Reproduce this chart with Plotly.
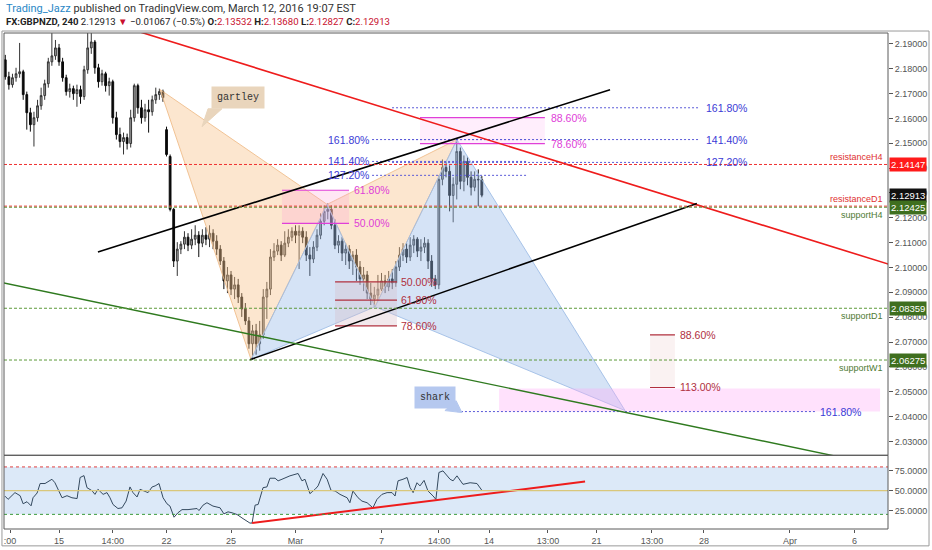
import plotly.graph_objects as go

# ---- 4h candles, GBPNZD ----
bar_open = [2.1836, 2.1768, 2.1736, 2.1764, 2.1780, 2.1788, 2.1696, 2.1623, 2.1575, 2.1603,
            2.1651, 2.1692, 2.1740, 2.1828, 2.1852, 2.1884, 2.1828, 2.1764, 2.1708, 2.1720,
            2.1700, 2.1716, 2.1688, 2.1796, 2.1884, 2.1908, 2.1804, 2.1748, 2.1780, 2.1732,
            2.1748, 2.1603, 2.1535, 2.1507, 2.1523, 2.1499, 2.1603, 2.1732, 2.1643, 2.1603,
            2.1635, 2.1627, 2.1675, 2.1696, 2.1708, 2.1555, 2.1447, 2.1234, 2.1026, 2.1074,
            2.1094, 2.1122, 2.1090, 2.1114, 2.1130, 2.1098, 2.1130, 2.1114, 2.1138, 2.1106,
            2.1074, 2.1026, 2.0946, 2.0970, 2.0913, 2.0930, 2.0881, 2.0833, 2.0785, 2.0693,
            2.0745, 2.0693, 2.0729, 2.0881, 2.0913, 2.1042, 2.1066, 2.1090, 2.1050, 2.1098,
            2.1122, 2.1146, 2.1130, 2.1146, 2.1122, 2.1050, 2.1034, 2.1082, 2.1130, 2.1186,
            2.1226, 2.1234, 2.1170, 2.1090, 2.1106, 2.1058, 2.1074, 2.1026, 2.1050, 2.1002,
            2.0954, 2.0970, 2.0897, 2.0873, 2.0889, 2.0913, 2.0946, 2.0922, 2.0954, 2.0938,
            2.1002, 2.1050, 2.1074, 2.1042, 2.1090, 2.1114, 2.1066, 2.1082, 2.1098, 2.1026,
            2.0954, 2.0930, 2.1355, 2.1403, 2.1387, 2.1290, 2.1335, 2.1467, 2.1347, 2.1427,
            2.1363, 2.1323, 2.1355, 2.13532]
bar_high = [2.1856, 2.1788, 2.1780, 2.1804, 2.1904, 2.1796, 2.1708, 2.1643, 2.1627, 2.1675,
            2.1724, 2.1756, 2.1844, 2.1944, 2.1916, 2.1900, 2.1844, 2.1776, 2.1740, 2.1732,
            2.1736, 2.1732, 2.1812, 2.1944, 2.1944, 2.1916, 2.1820, 2.1796, 2.1788, 2.1764,
            2.1756, 2.1627, 2.1563, 2.1543, 2.1539, 2.1635, 2.1740, 2.1740, 2.1675, 2.1659,
            2.1675, 2.1692, 2.1724, 2.1720, 2.1716, 2.1567, 2.1455, 2.1240, 2.1102, 2.1106,
            2.1146, 2.1138, 2.1154, 2.1170, 2.1146, 2.1154, 2.1162, 2.1170, 2.1154, 2.1130,
            2.1090, 2.1042, 2.1002, 2.0986, 2.0962, 2.0954, 2.0897, 2.0857, 2.0801, 2.0769,
            2.0773, 2.0785, 2.0913, 2.0942, 2.1074, 2.1098, 2.1114, 2.1106, 2.1146, 2.1154,
            2.1162, 2.1170, 2.1170, 2.1162, 2.1146, 2.1082, 2.1106, 2.1154, 2.1218, 2.1250,
            2.1258, 2.1250, 2.1194, 2.1130, 2.1122, 2.1098, 2.1090, 2.1066, 2.1074, 2.1026,
            2.1002, 2.0986, 2.0938, 2.0922, 2.0970, 2.0978, 2.0970, 2.0986, 2.0994, 2.1026,
            2.1082, 2.1098, 2.1098, 2.1122, 2.1130, 2.1122, 2.1114, 2.1122, 2.1114, 2.1050,
            2.0970, 2.1371, 2.1435, 2.1427, 2.1411, 2.1363, 2.1515, 2.1483, 2.1451, 2.1443,
            2.1387, 2.1387, 2.1395, 2.13680]
bar_low = [2.1756, 2.1716, 2.1724, 2.1748, 2.1764, 2.1675, 2.1555, 2.1547, 2.1487, 2.1587,
           2.1635, 2.1675, 2.1724, 2.1812, 2.1836, 2.1812, 2.1748, 2.1692, 2.1684, 2.1675,
           2.1647, 2.1659, 2.1675, 2.1780, 2.1860, 2.1780, 2.1724, 2.1732, 2.1708, 2.1692,
           2.1579, 2.1515, 2.1483, 2.1455, 2.1475, 2.1483, 2.1587, 2.1619, 2.1579, 2.1587,
           2.1543, 2.1611, 2.1659, 2.1675, 2.1667, 2.1447, 2.1226, 2.1002, 2.0966, 2.1054,
           2.1074, 2.1066, 2.1074, 2.1090, 2.1042, 2.1082, 2.1090, 2.1082, 2.1074, 2.1050,
           2.1010, 2.0913, 2.0897, 2.0889, 2.0873, 2.0857, 2.0801, 2.0769, 2.0673, 2.0630,
           2.0649, 2.0665, 2.0713, 2.0793, 2.0889, 2.1026, 2.1050, 2.1026, 2.1042, 2.1082,
           2.1106, 2.1098, 2.0994, 2.1098, 2.1026, 2.0966, 2.1018, 2.1066, 2.1114, 2.1170,
           2.1194, 2.1154, 2.1074, 2.1058, 2.1026, 2.1010, 2.0994, 2.0970, 2.0946, 2.0930,
           2.0905, 2.0873, 2.0849, 2.0841, 2.0865, 2.0905, 2.0897, 2.0905, 2.0913, 2.0922,
           2.0986, 2.1026, 2.1018, 2.1026, 2.1058, 2.1042, 2.1026, 2.1058, 2.0994, 2.0922,
           2.0913, 2.0913, 2.1331, 2.1363, 2.1226, 2.1182, 2.1274, 2.1315, 2.1307, 2.1331,
           2.1290, 2.1307, 2.1246, 2.12827]
bar_close = [2.1768, 2.1736, 2.1764, 2.1780, 2.1788, 2.1696, 2.1623, 2.1575, 2.1603, 2.1651,
             2.1692, 2.1740, 2.1828, 2.1852, 2.1884, 2.1828, 2.1764, 2.1708, 2.1720, 2.1700,
             2.1716, 2.1688, 2.1796, 2.1884, 2.1908, 2.1804, 2.1748, 2.1780, 2.1732, 2.1748,
             2.1603, 2.1535, 2.1507, 2.1523, 2.1499, 2.1603, 2.1732, 2.1643, 2.1603, 2.1635,
             2.1627, 2.1675, 2.1696, 2.1708, 2.1684, 2.1455, 2.1234, 2.1026, 2.1074, 2.1094,
             2.1122, 2.1090, 2.1114, 2.1130, 2.1098, 2.1130, 2.1114, 2.1138, 2.1106, 2.1074,
             2.1026, 2.0946, 2.0970, 2.0913, 2.0930, 2.0881, 2.0833, 2.0785, 2.0693, 2.0745,
             2.0693, 2.0729, 2.0881, 2.0913, 2.1042, 2.1066, 2.1090, 2.1050, 2.1098, 2.1122,
             2.1146, 2.1130, 2.1146, 2.1122, 2.1050, 2.1034, 2.1082, 2.1130, 2.1186, 2.1226,
             2.1234, 2.1170, 2.1090, 2.1106, 2.1058, 2.1074, 2.1026, 2.1050, 2.1002, 2.0954,
             2.0970, 2.0897, 2.0873, 2.0889, 2.0913, 2.0946, 2.0922, 2.0954, 2.0938, 2.1002,
             2.1050, 2.1074, 2.1042, 2.1090, 2.1114, 2.1066, 2.1082, 2.1098, 2.1026, 2.0954,
             2.0930, 2.1355, 2.1403, 2.1387, 2.1290, 2.1335, 2.1467, 2.1347, 2.1427, 2.1363,
             2.1323, 2.1355, 2.13532, 2.12913]
# x axis = trading days from Mon Feb 15, six 4h bars a day, first bar Feb 11 00:00
first_bar_day = -2.5
bars_per_day = 6

# ---- RSI line (day, value) ----
rsi_day = [-2.51, -2.37, -2.05, -1.81, -1.67, -1.49, -1.30, -1.21, -1.02, -0.88, -0.65, -0.33,
           -0.19, 0.14, 0.37, 0.60, 0.84, 0.98, 1.16, 1.30, 1.53, 1.67, 1.81, 2.05, 2.23, 2.37,
           2.51, 2.74, 2.93, 3.12, 3.30, 3.44, 3.63, 3.77, 3.95, 4.14, 4.33, 4.47, 4.65, 4.84,
           5.02, 5.16, 5.35, 5.53, 5.72, 6.00, 6.42, 6.51, 6.70, 6.88, 7.16, 7.49, 7.67, 7.86,
           8.05, 8.28, 8.56, 8.88, 8.98, 9.12, 9.26, 9.49, 9.67, 9.81, 10.05, 10.19, 10.37,
           10.74, 11.12, 11.30, 11.44, 11.67, 11.91, 12.05, 12.28, 12.47, 12.65, 12.84, 13.07,
           13.40, 13.53, 13.67, 13.91, 14.09, 14.33, 14.60, 14.79, 15.02, 15.26, 15.49, 15.63,
           15.77, 16.00, 16.19, 16.33, 16.47, 16.65, 16.79, 16.98, 17.16, 17.40, 17.53, 17.67,
           17.86, 18.19, 18.33, 18.51, 18.79, 19.12, 19.44, 19.67]
rsi_val = [43, 39, 47.5, 43.6, 33.4, 36, 30.8, 41, 47, 59, 59, 64.4, 60, 41, 43.6, 41, 40, 66.6,
           69, 53.8, 50, 45.3, 51.7, 45.3, 47.5, 41, 32.5, 27.4, 28.3, 36.8, 54.7, 47.5, 42,
           51.7, 49.6, 47.5, 54.7, 56, 59, 41, 33.4, 30.5, 16.4, 22, 26, 26, 27.4, 24.8, 31.7,
           34.7, 30.5, 28.3, 20.6, 23.2, 22, 19.8, 14.6, 9, 9, 31.7, 32.5, 53.8, 54.7, 65.7,
           65.7, 62.4, 64.4, 68.7, 71.7, 62.4, 64.4, 46.2, 51.7, 56, 71.7, 64.4, 50.4, 49.6,
           45.3, 41, 34.7, 49.6, 41, 36.8, 34.7, 28.3, 39, 45.3, 47.5, 47.5, 43.2, 62.4, 64.4,
           66.6, 53.8, 47.5, 60, 56, 63, 49.6, 43.2, 39, 73, 75, 64.4, 62.4, 68.7, 58, 60, 59,
           50.4]
rsi_trend_day = [8.98, 24.47]
rsi_trend_val = [9.1, 61.5]

# ---- drawings ----
red_line_day, red_line_price = [2.84, 38.60], [2.1973, 2.1013]
chan_up_day, chan_up_price = [1.81, 25.63], [2.1062, 2.1716]
chan_lo_day, chan_lo_price = [8.88, 29.67], [2.0629, 2.1258]
green_line_day, green_line_price = [-2.74, 37.26], [2.0941, 2.0220]

# harmonic points X A B C D (gartley) and O X A B C (shark)
gartley_day = [4.70, 8.93, 12.47, 14.70, 18.51]
gartley_price = [2.1716, 2.0630, 2.1254, 2.0842, 2.1515]
shark_day = [8.93, 12.47, 14.70, 18.51, 26.33]
shark_price = [2.0630, 2.1254, 2.0842, 2.1515, 2.0424]

level_names = ["resistanceH4", "resistanceD1", "supportH4", "supportD1", "supportW1"]
level_prices = [2.14147, 2.1247, 2.12425, 2.08359, 2.06275]
level_colors = ["#f03030", "#f03030", "#5e9a3a", "#5e9a3a", "#5e9a3a"]
level_text_colors = ["#e03030", "#e03030", "#4e7a32", "#4e7a32", "#4e7a32"]
level_text_side = ["above", "above", "below", "below", "below"]

axis_boxes = ["2.14147", "2.12913", "2.12425", "2.08359", "2.06275"]
axis_box_prices = [2.14147, 2.12913, 2.12425, 2.08359, 2.06275]
axis_box_colors = ["#ff1a1a", "#101010", "#3f6f1f", "#3f6f1f", "#3f6f1f"]

fibA_labels = ["161.80%", "141.40%", "127.20%"]
fibA_prices = [2.1643, 2.1515, 2.1423]
fibA_span = [15.49, 29.81]
fibB_labels = ["161.80%", "141.40%", "127.20%"]
fibB_prices = [2.1515, 2.1427, 2.1371]
fibB_span = [14.56, 21.77]
gfib_hi_labels = ["88.60%", "78.60%"]
gfib_hi_prices = [2.1603, 2.1499]
gfib_hi_span = [16.79, 22.60]
gfib_lo_labels = ["61.80%", "50.00%"]
gfib_lo_prices = [2.1311, 2.1178]
gfib_lo_span = [10.37, 13.49]
sfib_labels = ["50.00%", "61.80%", "78.60%"]
sfib_prices = [2.0942, 2.0869, 2.0765]
sfib_span = [12.84, 15.72]
sext_labels = ["88.60%", "113.00%"]
sext_prices = [2.0729, 2.0517]
sext_span = [27.49, 28.65]
prz_day = [20.47, 38.19]
prz_price = [2.0420, 2.0513]
shark_ext_label = "161.80%"
shark_ext_price = 2.0420
shark_ext_span = [18.51, 35.16]

tick_days = [-2.28, 0, 2.5, 5, 8, 11, 15, 17.67, 20, 22.74, 25, 27.58, 30, 34, 37]
tick_text = [":00", "15", "14:00", "22", "25", "Mar", "7", "14:00", "14", "13:00", "21",
             "13:00", "28", "Apr", "6"]

BLUE_TXT = "#3b3bd6"
BLUE_DASH = "#5a5ad8"
MAGENTA = "#e040d8"
MAROON = "#b0303e"
split = 0.1486
xr = [-2.56, 38.56]

bar_day = [first_bar_day + i / bars_per_day for i in range(len(bar_close))]

fig = go.Figure()


def poly(xs, ys, fill, line, yaxis="y", width=1):
    fig.add_trace(go.Scatter(x=xs, y=ys, mode="lines", fill="toself", fillcolor=fill,
                             line=dict(color=line, width=width), yaxis=yaxis,
                             hoverinfo="skip", showlegend=False))


def seg(xs, ys, color, width=1, dash=None, yaxis="y"):
    fig.add_trace(go.Scatter(x=xs, y=ys, mode="lines", line=dict(color=color, width=width, dash=dash),
                             yaxis=yaxis, hoverinfo="skip", showlegend=False))


def rect(span, p0, p1, fill):
    poly([span[0], span[1], span[1], span[0], span[0]], [p0, p0, p1, p1, p0], fill, "rgba(0,0,0,0)")


# harmonic triangles
g, gp, s, sp = gartley_day, gartley_price, shark_day, shark_price
PEACH, PEACH_L = "rgba(247,196,140,0.42)", "rgba(240,190,140,0.9)"
SKY, SKY_L = "rgba(150,185,232,0.40)", "rgba(160,190,230,0.9)"
poly([g[0], g[1], g[2], g[0]], [gp[0], gp[1], gp[2], gp[0]], PEACH, PEACH_L)
poly([g[2], g[3], g[4], g[2]], [gp[2], gp[3], gp[4], gp[2]], PEACH, PEACH_L)
poly([s[0], s[1], s[2], s[0]], [sp[0], sp[1], sp[2], sp[0]], SKY, SKY_L)
poly([s[2], s[3], s[4], s[2]], [sp[2], sp[3], sp[4], sp[2]], SKY, SKY_L)

# fib boxes
rect(gfib_hi_span, gfib_hi_prices[0], gfib_hi_prices[1], "rgba(255,160,240,0.18)")
rect(gfib_lo_span, gfib_lo_prices[0], gfib_lo_prices[1], "rgba(255,160,210,0.25)")
rect(sfib_span, sfib_prices[0], sfib_prices[-1], "rgba(215,190,200,0.35)")
rect(sext_span, sext_prices[0], sext_prices[1], "rgba(235,205,205,0.25)")
rect(prz_day, prz_price[0], prz_price[1], "rgba(255,170,245,0.35)")

fig.add_trace(go.Candlestick(
    x=bar_day, open=bar_open, high=bar_high, low=bar_low, close=bar_close,
    increasing=dict(fillcolor="#a8a8a8", line=dict(color="#333333", width=1)),
    decreasing=dict(fillcolor="#0a0a0a", line=dict(color="#0a0a0a", width=1)),
    whiskerwidth=0, hoverinfo="skip", showlegend=False))

# fib lines
for pr in fibA_prices:
    seg(fibA_span, [pr, pr], BLUE_DASH, 1, "2px,2px")
for pr in fibB_prices:
    seg(fibB_span, [pr, pr], BLUE_DASH, 1, "2px,2px")
for pr in gfib_hi_prices:
    seg(gfib_hi_span, [pr, pr], MAGENTA, 1.2)
for pr in gfib_lo_prices:
    seg(gfib_lo_span, [pr, pr], MAGENTA, 1.2)
for pr in sfib_prices:
    seg(sfib_span, [pr, pr], MAROON, 1.2)
for pr in sext_prices:
    seg(sext_span, [pr, pr], MAROON, 1.2)
seg(shark_ext_span, [shark_ext_price, shark_ext_price], BLUE_DASH, 1, "2px,2px")

# trend lines
seg(red_line_day, red_line_price, "#ee1c1c", 1.6)
seg(chan_up_day, chan_up_price, "#000000", 1.6)
seg(chan_lo_day, chan_lo_price, "#000000", 1.6)
seg(green_line_day, green_line_price, "#2f7a1f", 1.4)

# callout tails
poly([6.93, 7.58, 6.65, 6.93], [2.1639, 2.1639, 2.1567, 2.1639], "#e9d5bc", "#e9d5bc")
poly([17.95, 18.47, 18.74, 17.95], [2.0424, 2.0464, 2.0416, 2.0424], "#b5c8ef", "#b5c8ef")

# RSI
seg(rsi_day, rsi_val, "#34495e", 1, yaxis="y2")
seg(rsi_trend_day, rsi_trend_val, "#ee1c1c", 2, yaxis="y2")

shapes = []
for pr, col in zip(level_prices, level_colors):
    shapes.append(dict(type="line", xref="paper", yref="y", x0=0, x1=1, y0=pr, y1=pr,
                       line=dict(color=col, width=1, dash="3px,2px")))
shapes += [
    dict(type="rect", xref="paper", yref="y2", x0=0, x1=1, y0=20, y1=80,
         fillcolor="#dce9f8", line=dict(width=0), layer="below"),
    dict(type="line", xref="paper", yref="y2", x0=0, x1=1, y0=80, y1=80,
         line=dict(color="#e04040", width=1, dash="dot")),
    dict(type="line", xref="paper", yref="y2", x0=0, x1=1, y0=50, y1=50,
         line=dict(color="#d9c77a", width=1.2)),
    dict(type="line", xref="paper", yref="y2", x0=0, x1=1, y0=20, y1=20,
         line=dict(color="#3a9a3a", width=1, dash="dot")),
    dict(type="rect", xref="paper", yref="paper", x0=0, x1=1, y0=split, y1=1,
         line=dict(color="#5a5a5a", width=1)),
    dict(type="rect", xref="paper", yref="paper", x0=0, x1=1, y0=0, y1=split,
         line=dict(color="#5a5a5a", width=1)),
    dict(type="rect", xref="paper", yref="paper", x0=-0.0023, x1=1.0464, y0=-0.034, y1=1.004,
         line=dict(color="#9a9a9a", width=1)),
]

ann = []


def label(x, y, text, color, anchor="left", size=10.5):
    ann.append(dict(x=x, y=y, xref="x", yref="y", text=text, showarrow=False, xanchor=anchor,
                    yanchor="middle", font=dict(family="Liberation Sans", size=size, color=color)))


for t, pr in zip(fibA_labels, fibA_prices):
    label(fibA_span[1] + 0.19, pr, t, BLUE_TXT)
for t, pr in zip(fibB_labels, fibB_prices):
    label(fibB_span[0] - 0.05, pr, t, BLUE_TXT, "right")
for t, pr in zip(gfib_hi_labels, gfib_hi_prices):
    label(gfib_hi_span[1] + 0.2, pr, t, MAGENTA)
for t, pr in zip(gfib_lo_labels, gfib_lo_prices):
    label(gfib_lo_span[1] + 0.14, pr, t, MAGENTA)
for t, pr in zip(sfib_labels, sfib_prices):
    label(sfib_span[1] + 0.1, pr, t, MAROON)
for t, pr in zip(sext_labels, sext_prices):
    label(sext_span[1] + 0.14, pr, t, MAROON)
label(shark_ext_span[1] + 0.14, shark_ext_price, shark_ext_label, BLUE_TXT)

for name, pr, col, side in zip(level_names, level_prices, level_text_colors, level_text_side):
    ann.append(dict(x=0.9966, y=pr, xref="paper", yref="y", text=name, showarrow=False,
                    xanchor="right", yanchor="bottom" if side == "above" else "top",
                    yshift=0 if side == "above" else -1,
                    font=dict(family="Liberation Sans", size=9, color=col)))

for t, pr, col in zip(axis_boxes, axis_box_prices, axis_box_colors):
    ann.append(dict(x=1.0, y=pr, xref="paper", yref="y", text=t, showarrow=False, xanchor="left",
                    yanchor="middle", bgcolor=col, borderpad=1, xshift=1,
                    font=dict(family="Liberation Sans", size=9.5, color="#ffffff")))

ann.append(dict(x=8.33, y=2.1683, xref="x", yref="y", text="gartley", showarrow=False,
                bgcolor="#e9d5bc", borderpad=5, font=dict(family="Liberation Mono", size=10, color="#333")))
ann.append(dict(x=17.49, y=2.0476, xref="x", yref="y", text="shark", showarrow=False,
                bgcolor="#b5c8ef", borderpad=5, font=dict(family="Liberation Mono", size=10, color="#333")))

RED = "#c8102e"
ann.append(dict(x=0, y=1.0502, xref="paper", yref="paper", xanchor="left", yanchor="middle",
                showarrow=False, font=dict(family="Roboto", size=11, color="#333"),
                text='<span style="color:#2a87c6">Trading_Jazz</span> published on TradingView.com, '
                     'March 12, 2016 19:07 EST'))
ann.append(dict(x=0, y=1.0221, xref="paper", yref="paper", xanchor="left", yanchor="middle",
                showarrow=False, font=dict(family="Roboto", size=9.6, color="#222"),
                text=f'<b>FX:GBPNZD, 240</b> 2.12913 <span style="color:{RED}">▼</span> −0.01067 (−0.5%) '
                     f'<b>O:</b><span style="color:{RED}">2.13532</span> '
                     f'<b>H:</b><span style="color:{RED}">2.13680</span> '
                     f'<b>L:</b><span style="color:{RED}">2.12827</span> '
                     f'<b>C:</b><span style="color:{RED}">2.12913</span>'))

AX = dict(family="Liberation Sans", size=9, color="#555")
fig.update_layout(
    width=932, height=550, margin=dict(l=4, r=44, t=33, b=19),
    paper_bgcolor="white", plot_bgcolor="white", showlegend=False,
    shapes=shapes, annotations=ann,
    xaxis=dict(range=xr, domain=[0, 1], anchor="y2", showgrid=False, zeroline=False,
               rangeslider=dict(visible=False), tickmode="array", tickvals=tick_days,
               ticktext=tick_text, ticks="outside", ticklen=3, tickcolor="#555", tickfont=AX),
    yaxis=dict(domain=[split, 1], range=[2.0244, 2.1944], side="right", anchor="x",
               showgrid=False, zeroline=False, tickmode="linear", tick0=2.03, dtick=0.01,
               tickformat=".5f", ticks="outside", ticklen=4, tickcolor="#555", tickfont=AX),
    yaxis2=dict(domain=[0, split], range=[1.5, 94.7], side="right", anchor="x",
                showgrid=False, zeroline=False, tickmode="array", tickvals=[25, 50, 75],
                tickformat=".4f", ticks="outside", ticklen=4, tickcolor="#555", tickfont=AX),
)

# the page has a default 8px body margin; drop it so the figure fills the window
fig.write_html("out.html", config=dict(displayModeBar=False),
               post_script="document.body.style.margin='0';document.body.style.overflow='hidden';")
